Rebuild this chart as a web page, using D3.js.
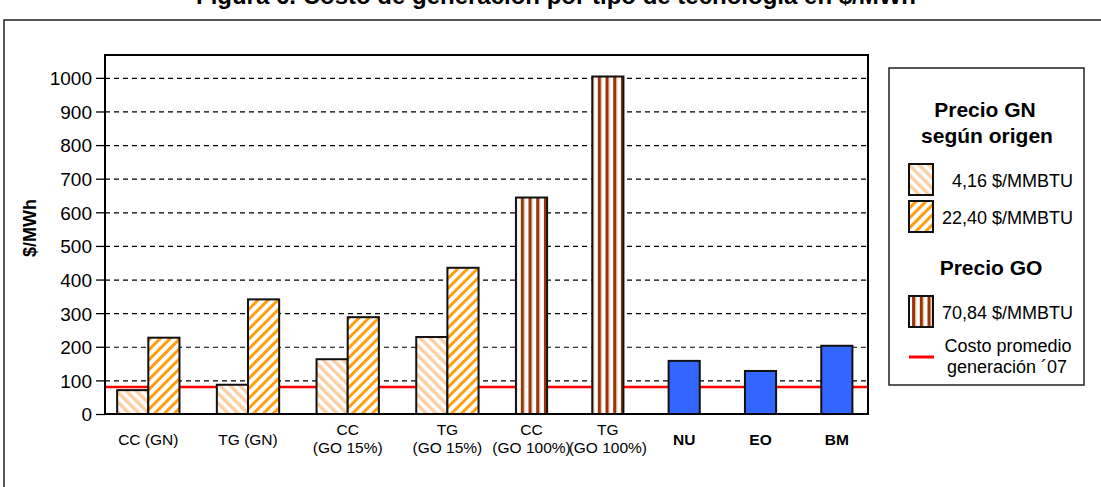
<!DOCTYPE html>
<html>
<head>
<meta charset="utf-8">
<script src="https://cdn.jsdelivr.net/npm/d3@7"></script>
<style>
    body { margin: 0; background: #ffffff; }
    svg text { font-family: "Liberation Sans", Arial, sans-serif; fill: #000000; }
</style>
</head>
<body>
<svg id="cost-chart"></svg>
<script>
// Chart data
const category_labels = [["CC (GN)"], ["TG (GN)"], ["CC", "(GO 15%)"], ["TG", "(GO 15%)"],
    ["CC", "(GO 100%)"], ["TG", "(GO 100%)"], ["NU"], ["EO"], ["BM"]];
const bold_categories = ["NU", "EO", "BM"];
const gn_low_values = [71, 87, 163, 229, null, null, null, null, null];
const gn_high_values = [227, 341, 288, 435, null, null, null, null, null];
const go_values = [null, null, null, null, 644, 1004, null, null, null];
const other_values = [null, null, null, null, null, null, 158, 128, 203];
const avg_cost_2007 = 80;
const y_ticks = [0, 100, 200, 300, 400, 500, 600, 700, 800, 900, 1000];
const y_max = 1068;

const series_list = [
    { key: "gn_low", values: gn_low_values, fill: "url(#pat-gn-low)", legend: "4,16 $/MMBTU" },
    { key: "gn_high", values: gn_high_values, fill: "url(#pat-gn-high)", legend: "22,40 $/MMBTU" },
    { key: "go", values: go_values, fill: "url(#pat-go)", legend: "70,84 $/MMBTU" },
    { key: "other", values: other_values, fill: "#3366ff", legend: null }
];

// Page and plot dimensions
const page_width = 1101, page_height = 487;
const plot = { left: 105, top: 55, right: 868, bottom: 414 };
const plot_width = plot.right - plot.left;
const plot_height = plot.bottom - plot.top;

const svg = d3.select("#cost-chart")
    .attr("width", page_width)
    .attr("height", page_height);

// Hatch patterns for the bar fills
const defs = svg.append("defs");
function add_stripes(id, angle, period, stripe_w, color, bg) {
    const p = defs.append("pattern")
        .attr("id", id)
        .attr("patternUnits", "userSpaceOnUse")
        .attr("width", period)
        .attr("height", period)
        .attr("patternTransform", `rotate(${angle})`);
    p.append("rect").attr("width", period).attr("height", period).attr("fill", bg);
    p.append("rect").attr("width", stripe_w).attr("height", period).attr("fill", color);
    return p;
}
add_stripes("pat-gn-low", -45, 7, 3.4, "#fccfa3", "#ffffff");
add_stripes("pat-gn-high", 45, 7, 3, "#ff9e0f", "#ffffff");
const go_pat = add_stripes("pat-go", 0, 7.7, 3.2, "#9a3508", "#ffffff");
go_pat.append("rect").attr("x", 3.2).attr("width", 1).attr("height", 7.7).attr("fill", "#e2b89a");

// Outer frame and title (mostly cropped off at the top)
svg.append("rect")
    .attr("x", 4).attr("y", 20)
    .attr("width", page_width + 20).attr("height", page_height + 20)
    .attr("fill", "none")
    .attr("stroke", "#222")
    .attr("stroke-width", 1.5);

svg.append("text")
    .attr("x", 556).attr("y", 4)
    .attr("text-anchor", "middle")
    .style("font-size", "24px")
    .style("font-weight", "bold")
    .text("Figura 6. Costo de generación por tipo de tecnología en $/MWh");

// Lay the bars out in "bar units": each bar is one unit, with gaps between categories
const pad_left = 0.39, pad_right = 0.5, gap_after_pair = 1.2, gap_after_single = 1.45;
const bars = [];
const category_mid = [];
let unit_pos = pad_left;
category_labels.forEach((lab, i) => {
    const present = series_list.filter(s => s.values[i] !== null);
    const start = unit_pos;
    present.forEach(s => {
        bars.push({ cat: i, series: s, value: s.values[i], u0: unit_pos });
        unit_pos += 1;
    });
    category_mid.push((start + unit_pos) / 2);
    if (i < category_labels.length - 1) unit_pos += present.length > 1 ? gap_after_pair : gap_after_single;
});
unit_pos += pad_right;

const x_scale = d3.scaleLinear().domain([0, unit_pos]).range([0, plot_width]);
const y_scale = d3.scaleLinear().domain([0, y_max]).range([plot_height, 0]);

const g = svg.append("g").attr("transform", `translate(${plot.left}, ${plot.top})`);

// Dashed gridlines
g.append("g")
    .attr("class", "grid")
    .call(d3.axisLeft(y_scale).tickValues(y_ticks.filter(v => v > 0)).tickSize(-plot_width).tickFormat(""))
    .call(a => a.select(".domain").remove())
    .selectAll("line")
    .attr("stroke", "#000")
    .attr("stroke-width", 1.2)
    .attr("stroke-dasharray", "5,4");

// Average 2007 generation cost line (behind the bars)
g.append("line")
    .attr("x1", 0).attr("x2", plot_width)
    .attr("y1", y_scale(avg_cost_2007)).attr("y2", y_scale(avg_cost_2007))
    .attr("stroke", "#ff0000")
    .attr("stroke-width", 2.5);

// Bars
g.selectAll("rect.bar")
    .data(bars)
    .join("rect")
    .attr("class", "bar")
    .attr("x", d => x_scale(d.u0))
    .attr("y", d => y_scale(d.value))
    .attr("width", d => x_scale(d.u0 + 1) - x_scale(d.u0))
    .attr("height", d => y_scale(0) - y_scale(d.value))
    .attr("fill", d => d.series.fill)
    .attr("stroke", "#111")
    .attr("stroke-width", 2);

// Y axis with outward ticks
const y_axis = g.append("g")
    .call(d3.axisLeft(y_scale).tickValues(y_ticks).tickFormat(d3.format("d")).tickSize(9).tickPadding(4));
y_axis.select(".domain").remove();
y_axis.selectAll("line").attr("stroke", "#000").attr("stroke-width", 1.3);
y_axis.selectAll("text")
    .style("font-size", "19px")
    .attr("dy", "0.36em");

// Plot frame
g.append("rect")
    .attr("width", plot_width).attr("height", plot_height)
    .attr("fill", "none")
    .attr("stroke", "#000")
    .attr("stroke-width", 2);

// Y axis title
svg.append("text")
    .attr("transform", `translate(36, 228) rotate(-90)`)
    .attr("text-anchor", "middle")
    .style("font-size", "18px")
    .style("font-weight", "bold")
    .text("$/MWh");

// Category labels
const cat_text = g.selectAll("text.cat")
    .data(category_labels)
    .join("text")
    .attr("class", "cat")
    .attr("text-anchor", "middle")
    .attr("x", (d, i) => x_scale(category_mid[i]))
    .style("font-size", "15.5px")
    .style("font-weight", d => bold_categories.includes(d[0]) ? "bold" : "normal");
cat_text.selectAll("tspan")
    .data(d => d.map((t, k) => ({ t, k, n: d.length })))
    .join("tspan")
    .attr("x", function () { return d3.select(this.parentNode).attr("x"); })
    .attr("y", d => d.n === 1 ? plot_height + 31 : plot_height + 21 + d.k * 18)
    .text(d => d.t);

// Legend
const legend = svg.append("g").attr("transform", "translate(889, 68)");
legend.append("rect")
    .attr("width", 195).attr("height", 317)
    .attr("fill", "#fff")
    .attr("stroke", "#222")
    .attr("stroke-width", 1.5);

const legend_heads = [
    { text: "Precio GN", x: 96, y: 49 },
    { text: "según origen", x: 98, y: 75 },
    { text: "Precio GO", x: 102, y: 207 }
];
legend.selectAll("text.head")
    .data(legend_heads)
    .join("text")
    .attr("class", "head")
    .attr("x", d => d.x).attr("y", d => d.y)
    .attr("text-anchor", "middle")
    .style("font-size", "21px")
    .style("font-weight", "bold")
    .text(d => d.text);

const legend_items = series_list.filter(s => s.legend !== null);
const legend_rows = [96, 133, 228];
legend.selectAll("rect.swatch")
    .data(legend_items)
    .join("rect")
    .attr("class", "swatch")
    .attr("x", 20).attr("y", (d, i) => legend_rows[i])
    .attr("width", 24).attr("height", 31)
    .attr("fill", d => d.fill)
    .attr("stroke", "#111")
    .attr("stroke-width", 2);
legend.selectAll("text.item")
    .data(legend_items)
    .join("text")
    .attr("class", "item")
    .attr("x", 184).attr("y", (d, i) => legend_rows[i] + 23)
    .attr("text-anchor", "end")
    .style("font-size", "18px")
    .text(d => d.legend);

legend.append("line")
    .attr("x1", 20).attr("x2", 45)
    .attr("y1", 289).attr("y2", 289)
    .attr("stroke", "#ff0000")
    .attr("stroke-width", 3);
legend.append("text")
    .attr("x", 119).attr("y", 284)
    .attr("text-anchor", "middle")
    .style("font-size", "18px")
    .text("Costo promedio");
legend.append("text")
    .attr("x", 118).attr("y", 305)
    .attr("text-anchor", "middle")
    .style("font-size", "18px")
    .text("generación ´07");
</script>
</body>
</html>
